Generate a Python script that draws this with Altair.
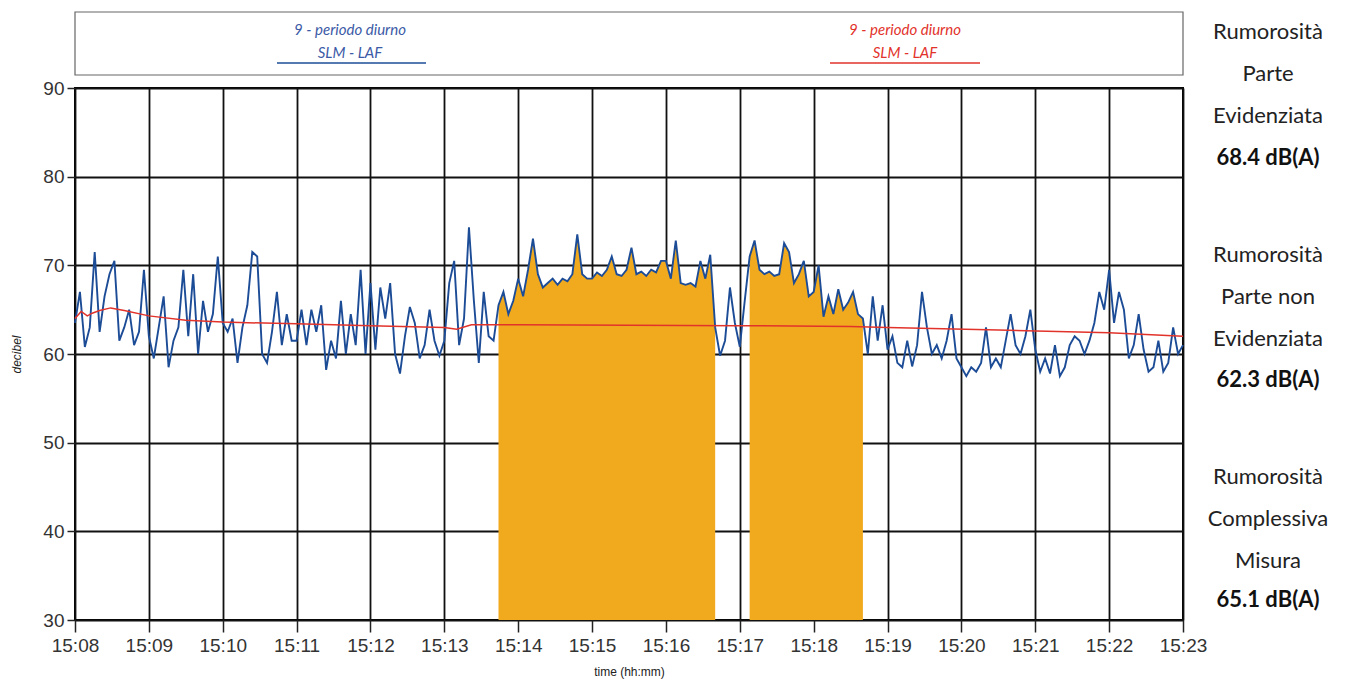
import altair as alt
import pandas as pd

# ---------------- data ----------------
STEP_S = 4  # seconds between LAF samples
m08 = [63.5, 67.0, 60.8, 63.0, 71.5, 62.5, 66.5, 69.0, 70.5, 61.5, 63.0, 65.0, 61.0, 62.5, 69.5]
m09 = [62.0, 59.5, 63.0, 66.5, 58.5, 61.5, 63.0, 69.5, 62.0, 69.0, 60.0, 66.0, 62.5, 64.5, 71.0]
m10 = [63.5, 62.5, 64.0, 59.0, 63.0, 65.5, 71.5, 71.0, 60.0, 59.0, 62.5, 67.0, 61.0, 64.5, 61.5]
m11 = [61.5, 65.0, 61.0, 65.0, 62.5, 65.5, 58.2, 61.5, 59.5, 66.0, 60.0, 64.5, 61.0, 69.5, 60.0]
m12 = [68.0, 60.5, 67.5, 64.0, 68.0, 60.0, 57.8, 62.0, 65.3, 63.5, 59.5, 61.0, 65.0, 61.5, 59.8]
m13 = [61.5, 68.0, 70.5, 61.0, 64.0, 74.3, 66.0, 59.0, 67.0, 62.0, 61.5, 65.5, 67.0, 64.5, 66.0]
m14 = [68.5, 66.5, 69.5, 73.0, 69.0, 67.5, 68.0, 68.5, 67.8, 68.5, 68.2, 69.0, 73.5, 69.0, 68.5]
m15 = [68.5, 69.2, 68.8, 69.5, 71.0, 69.0, 68.8, 69.5, 72.0, 69.0, 69.3, 68.8, 69.5, 69.2, 70.5]
m16 = [70.5, 68.5, 72.8, 68.0, 67.8, 68.0, 67.6, 70.5, 68.5, 71.2, 63.0, 59.8, 61.5, 67.5, 63.5]
m17 = [60.8, 66.0, 71.0, 72.8, 69.5, 69.0, 69.3, 68.8, 69.0, 72.5, 71.5, 68.0, 69.0, 70.5, 66.5]
m18 = [67.0, 70.0, 64.2, 66.5, 64.5, 67.3, 65.0, 65.8, 67.0, 64.5, 64.0, 60.0, 66.5, 61.5, 65.5]
m19 = [60.5, 62.0, 59.0, 58.5, 61.5, 58.6, 61.0, 67.0, 63.0, 60.0, 61.0, 59.5, 61.5, 64.5, 59.5]
m20 = [58.5, 57.5, 58.5, 58.0, 59.0, 63.0, 58.5, 59.5, 58.5, 61.5, 64.5, 61.0, 60.0, 62.0, 65.0]
m21 = [60.5, 58.0, 59.5, 57.8, 61.0, 57.5, 58.5, 61.0, 62.0, 61.5, 60.0, 61.5, 63.5, 67.0, 65.0]
m22 = [69.5, 63.5, 67.0, 65.0, 59.5, 61.0, 64.5, 60.5, 58.0, 58.5, 61.5, 58.0, 59.0, 63.0, 60.0]
last_value = 61.0

# running Leq (red line): seconds from 15:08:00 and dB
leq_t = [0, 5, 10, 14, 20, 29, 40, 60, 90, 120, 180, 240, 300, 310, 322, 360, 540, 630, 660, 750, 840, 900]
leq_db = [64.0, 64.8, 64.3, 64.6, 64.9, 65.2, 64.9, 64.3, 63.8, 63.6, 63.4, 63.2, 63.0, 62.8, 63.3, 63.3,
          63.2, 63.1, 63.0, 62.7, 62.4, 62.0]

# highlighted periods (seconds from 15:08:00)
hl_start = [344, 548]
hl_end = [520, 640]

x_tick_values = list(range(0, 901, 60))
y_tick_values = [30, 40, 50, 60, 70, 80, 90]

legend_title = "9 - periodo diurno"
legend_sub = "SLM - LAF"
side_blocks = ["Rumorosità\nParte\nEvidenziata", "Rumorosità\nParte non\nEvidenziata",
               "Rumorosità\nComplessiva\nMisura"]
side_values = ["68.4 dB(A)", "62.3 dB(A)", "65.1 dB(A)"]

# ---------------- build tables ----------------
laf = m08 + m09 + m10 + m11 + m12 + m13 + m14 + m15 + m16 + m17 + m18 + m19 + m20 + m21 + m22 + [last_value]
df_blue = pd.DataFrame({"t": [i * STEP_S for i in range(len(laf))], "db": laf})
parts = []
for k, (a, b) in enumerate(zip(hl_start, hl_end)):
    p = df_blue[(df_blue.t >= a) & (df_blue.t <= b)].copy()
    p["seg"] = k
    parts.append(p)
df_area = pd.concat(parts)
df_red = pd.DataFrame({"t": leq_t, "db": leq_db})

BLUE = "#1D4C97"
RED = "#E2332B"
ORANGE = "#F1AA1E"
LABEL_FONT = "Liberation Sans, Arial, sans-serif"
SIDE_FONT = "Lato, Open Sans, sans-serif"

X = alt.X("t:Q", scale=alt.Scale(domain=[0, 900], nice=False),
          axis=alt.Axis(values=x_tick_values, labelExpr="'15:' + format(8 + datum.value / 60, '02d')",
                        title="time (hh:mm)", tickSize=12, labelPadding=4, titlePadding=11,
                        labelFlush=False))
Y = alt.Y("db:Q", scale=alt.Scale(domain=[30, 90], nice=False, zero=False),
          axis=alt.Axis(values=y_tick_values, title="decibel", titleFontStyle="italic",
                        tickSize=8, labelPadding=3, titlePadding=19, labelFlush=False))

area = alt.Chart(df_area).mark_area(color=ORANGE, opacity=1, interpolate="linear").encode(
    x=X, y=Y, y2=alt.datum(30), detail="seg:N")
blue = alt.Chart(df_blue).mark_line(color=BLUE, strokeWidth=1.9).encode(x=X, y=Y)
red = alt.Chart(df_red).mark_line(color=RED, strokeWidth=1.5).encode(x=X, y=Y)

one = pd.DataFrame({"k": [0]})


def txt(text, x, y, **kw):
    return alt.Chart(one).mark_text(text=text, **kw).encode(x=alt.value(x), y=alt.value(y))


def rule(x1, x2, y, color, w=1.5):
    return alt.Chart(one).mark_rule(color=color, strokeWidth=w).encode(
        x=alt.value(x1), x2=alt.value(x2), y=alt.value(y))


legend_box = alt.Chart(one).mark_rect(fill="white", stroke="#666", strokeWidth=1.2).encode(
    x=alt.value(0), x2=alt.value(1108), y=alt.value(-76), y2=alt.value(-13))

leg_kw = dict(font=SIDE_FONT, fontStyle="italic", fontSize=15, align="center", baseline="middle")
legend = [
    legend_box,
    txt(legend_title, 275, -58, color="#3B5AA6", **leg_kw),
    txt(legend_sub, 275, -35, color="#3B5AA6", **leg_kw),
    rule(202, 351, -25, BLUE),
    txt(legend_title, 830, -58, color=RED, **leg_kw),
    txt(legend_sub, 830, -35, color=RED, **leg_kw),
    rule(755, 905, -25, RED),
]

side = []
block_y = [-56, 167, 389]
value_y = [70, 292, 512]
for s, v, by, vy in zip(side_blocks, side_values, block_y, value_y):
    side.append(txt(s, 1193, by, font=SIDE_FONT, fontSize=22, lineHeight=42, align="center",
                    baseline="middle", color="#222", lineBreak="\n"))
    side.append(txt(v, 1193, vy, font=SIDE_FONT, fontSize=22, fontWeight="bold", align="center",
                    baseline="middle", color="#111"))

chart = alt.layer(area, blue, red, *legend, *side).properties(
    width=1108, height=532, autosize="none",
    padding={"left": 75, "top": 88, "right": 174, "bottom": 63},
).configure_view(stroke="black", strokeWidth=2).configure_axis(
    grid=True, gridColor="#111", gridWidth=1.8, gridOpacity=1, domain=False,
    tickColor="#222", tickWidth=1.5, labelFont=LABEL_FONT, labelFontSize=19, labelColor="#333",
    titleFont="Liberation Sans, Arial, sans-serif", titleFontSize=12, titleFontWeight="normal",
    titleColor="#222",
)

chart.save("out.html", embed_options={"renderer": "svg", "actions": False})
